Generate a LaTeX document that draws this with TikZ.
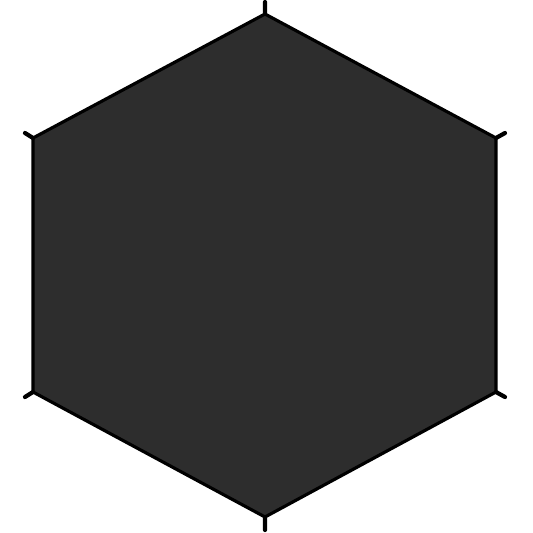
\documentclass[tikz,border=0pt]{standalone}
\usepackage{tikz}
\usepackage{xcolor}
\definecolor{hexfill}{HTML}{2D2D2D}
\tikzset{
    hexside/.style={draw=black, line width=0.9pt, line join=miter, fill=hexfill},
    hextick/.style={draw=black, line width=1.2pt, line cap=round}
}

\begin{document}
\begin{tikzpicture}[x=0.01cm, y=-0.01cm]
                        \useasboundingbox (0, 0) rectangle (533, 533);
                        \coordinate (top) at (265, 14);
                        \coordinate (upright) at (496, 138);
                        \coordinate (lowright) at (496, 392);
                        \coordinate (bottom) at (265, 517);
                        \coordinate (lowleft) at (33, 392);
                        \coordinate (upleft) at (33, 138);

                        \path[hexside]
                        (top) -- (upright) -- (lowright) -- (bottom) -- (lowleft) -- (upleft) -- cycle;

                        \draw[hextick]
                        (top) -- (265, 2)
                        (upright) -- (505, 133)
                        (lowright) -- (505, 397)
                        (bottom) -- (265, 530)
                        (lowleft) -- (25, 397)
                        (upleft) -- (25, 133);
                    \end{tikzpicture}
\end{document}
